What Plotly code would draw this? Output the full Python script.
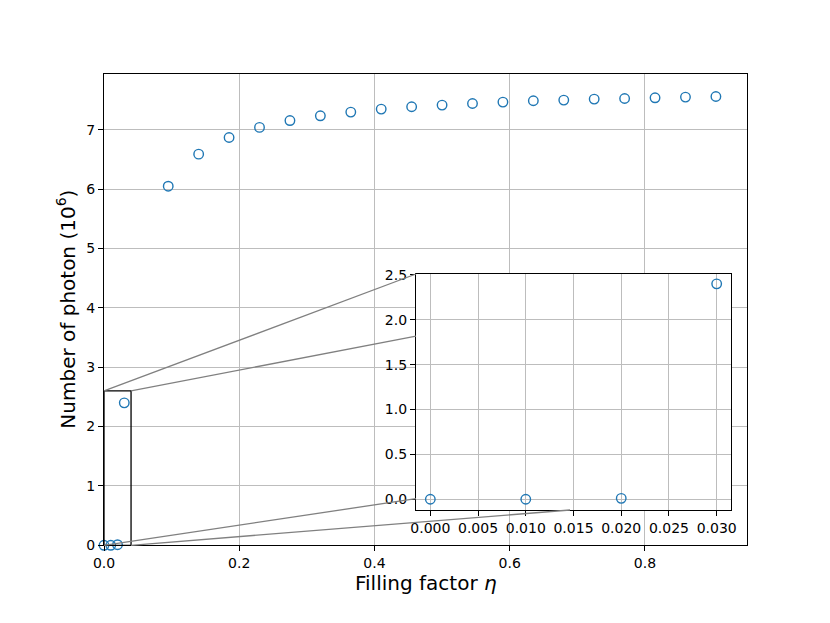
import plotly.graph_objects as go

# ---------------- data ----------------
eta_low = [0.0, 0.01, 0.02, 0.03]
photons_low = [0.0, 0.0, 0.01, 2.40]

eta_high = [0.095, 0.14, 0.185, 0.23, 0.275, 0.32, 0.365, 0.41, 0.455, 0.50,
            0.545, 0.59, 0.635, 0.68, 0.725, 0.77, 0.815, 0.86, 0.905]
photons_high = [6.05, 6.59, 6.87, 7.04, 7.156, 7.236, 7.298, 7.349, 7.388, 7.416,
                7.443, 7.467, 7.489, 7.50, 7.517, 7.527, 7.539, 7.551, 7.561]

eta_all = eta_low + eta_high
photons_all = photons_low + photons_high

main_xticks = [0.0, 0.2, 0.4, 0.6, 0.8]
main_yticks = [0, 1, 2, 3, 4, 5, 6, 7]
inset_xticks = [0.000, 0.005, 0.010, 0.015, 0.020, 0.025, 0.030]
inset_yticks = [0.0, 0.5, 1.0, 1.5, 2.0, 2.5]

zoom_box_x = [0.0, 0.04]
zoom_box_y = [0.0, 2.6]

# ---------------- layout geometry ----------------
W, H = 830, 623
main_xdom = [104 / W, 747 / W]
main_ydom = [(H - 545.3) / H, (H - 74) / H]
main_xrange = [0.0, 0.951]
main_yrange = [0.0, 7.94]

ins_xdom = [416 / W, 731 / W]
ins_ydom = [(H - 510) / H, (H - 274) / H]
ins_xrange = [-0.0015, 0.0315]
ins_yrange = [-0.12, 2.51]

blue = "#1f77b4"
grid = "#bdbdbd"
font = "DejaVu Sans"


def main_to_paper(x, y):
    px = main_xdom[0] + (x - main_xrange[0]) / (main_xrange[1] - main_xrange[0]) * (main_xdom[1] - main_xdom[0])
    py = main_ydom[0] + (y - main_yrange[0]) / (main_yrange[1] - main_yrange[0]) * (main_ydom[1] - main_ydom[0])
    return px, py


def inset_frac_to_paper(fx, fy):
    return (ins_xdom[0] + fx * (ins_xdom[1] - ins_xdom[0]),
            ins_ydom[0] + fy * (ins_ydom[1] - ins_ydom[0]))


fig = go.Figure()

marker = dict(symbol="circle-open", size=9.5, color=blue, line=dict(width=1.4, color=blue))

fig.add_trace(go.Scatter(x=eta_all, y=photons_all, mode="markers", marker=marker,
                         xaxis="x", yaxis="y", showlegend=False, cliponaxis=False))
fig.add_trace(go.Scatter(x=eta_low, y=photons_low, mode="markers", marker=marker,
                         xaxis="x2", yaxis="y2", showlegend=False))

axis_common = dict(showline=True, linecolor="black", linewidth=1.3, mirror=True,
                   ticks="outside", ticklen=5, tickwidth=1.2, tickcolor="black",
                   showgrid=True, gridcolor=grid, gridwidth=1.1, zeroline=False,
                   automargin=False,
                   tickfont=dict(family=font, size=14, color="black"))

fig.update_layout(
    width=W, height=H,
    margin=dict(l=0, r=0, t=0, b=0, pad=0, autoexpand=False),
    paper_bgcolor="white", plot_bgcolor="white",
    font=dict(family=font, color="black"),
    xaxis=dict(domain=main_xdom, range=main_xrange, tickvals=main_xticks,
               ticktext=[f"{v:.1f}" for v in main_xticks], anchor="y", **axis_common),
    yaxis=dict(domain=main_ydom, range=main_yrange, tickvals=main_yticks,
               ticktext=[str(v) for v in main_yticks], anchor="x", **axis_common),
    xaxis2=dict(domain=ins_xdom, range=ins_xrange, tickvals=inset_xticks,
                ticktext=[f"{v:.3f}" for v in inset_xticks], anchor="y2", **axis_common),
    yaxis2=dict(domain=ins_ydom, range=ins_yrange, tickvals=inset_yticks,
                ticktext=[f"{v:.1f}" for v in inset_yticks], anchor="x2", **axis_common),
)

# zoom rectangle on main axes
fig.add_shape(type="rect", xref="x", yref="y",
              x0=zoom_box_x[0], x1=zoom_box_x[1], y0=zoom_box_y[0], y1=zoom_box_y[1],
              line=dict(color="black", width=1.3), layer="above")

# connector lines (rect corner -> where they meet the inset frame)
connectors = [
    ((zoom_box_x[0], zoom_box_y[1]), (0.0, 1.0)),
    ((zoom_box_x[1], zoom_box_y[1]), (0.0, 0.737)),
    ((zoom_box_x[0], zoom_box_y[0]), (0.0, 0.048)),
    ((zoom_box_x[1], zoom_box_y[0]), (0.489, 0.0)),
]
for (dx, dy), (fx, fy) in connectors:
    x0, y0 = main_to_paper(dx, dy)
    x1, y1 = inset_frac_to_paper(fx, fy)
    fig.add_shape(type="line", xref="paper", yref="paper", x0=x0, y0=y0, x1=x1, y1=y1,
                  line=dict(color="#808080", width=1.3), layer="above")

# axis titles
fig.add_annotation(text="Filling factor <i>η</i>", xref="paper", yref="paper",
                   x=(main_xdom[0] + main_xdom[1]) / 2, y=(H - 583) / H,
                   showarrow=False, font=dict(family=font, size=20, color="black"),
                   xanchor="center", yanchor="middle")
fig.add_annotation(text="Number of photon (10<sup>6</sup>)", xref="paper", yref="paper",
                   x=66 / W, y=(main_ydom[0] + main_ydom[1]) / 2, textangle=-90,
                   showarrow=False, font=dict(family=font, size=20, color="black"),
                   xanchor="center", yanchor="middle")

fig.write_html("out.html", config={"displayModeBar": False},
               post_script="document.body.style.margin='0';document.body.style.padding='0';")
